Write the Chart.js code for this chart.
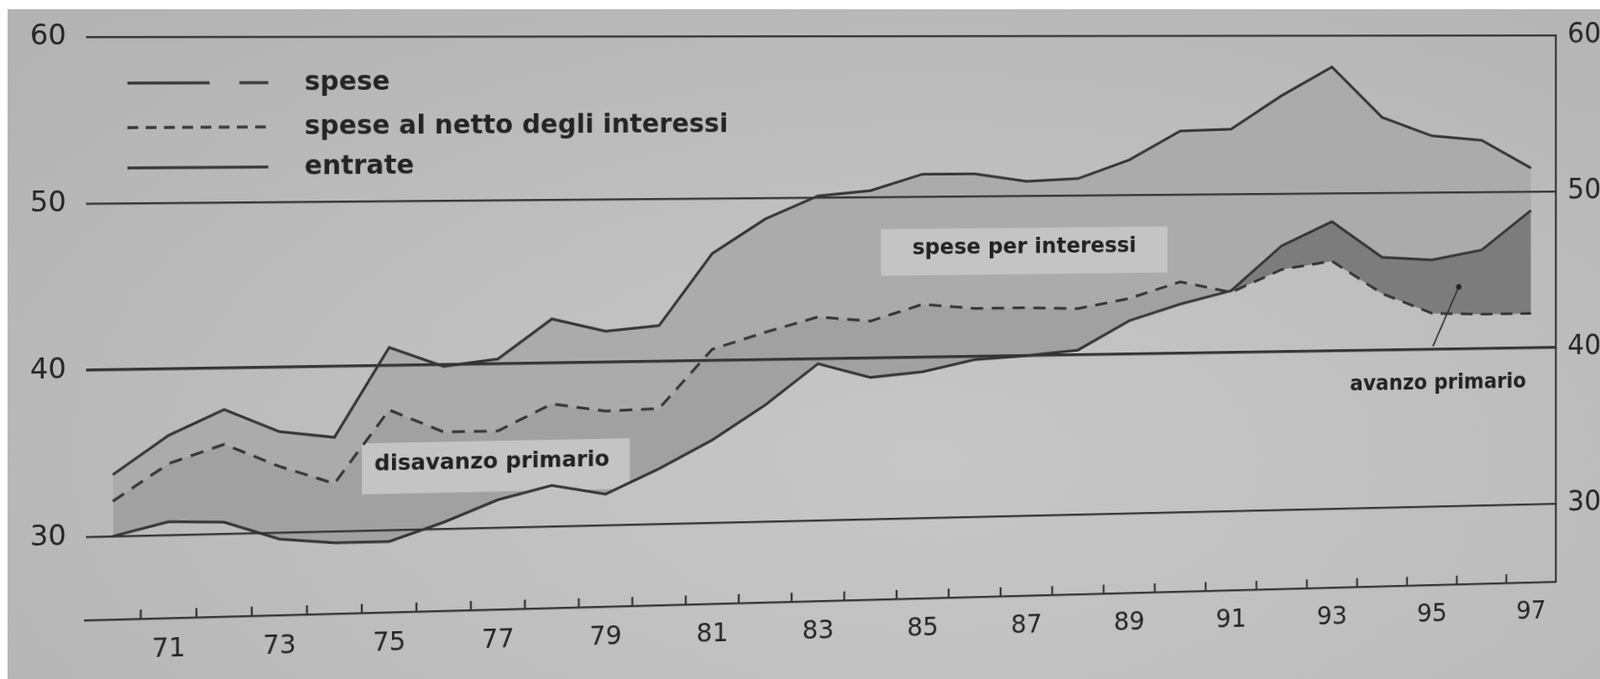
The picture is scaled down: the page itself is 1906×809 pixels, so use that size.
<!DOCTYPE html>
<html>
<head>
<meta charset="utf-8">
<script src="https://cdn.jsdelivr.net/npm/chart.js@4/dist/chart.umd.min.js"></script>
<style>
html,body{margin:0;padding:0;width:1906px;height:809px;overflow:hidden;background:#ffffff;}
#paper{position:absolute;left:0;top:0;width:1906px;height:809px;
  background:radial-gradient(ellipse 75% 90% at 58% 68%, #c7c7c7 0%, #bebebe 50%, #b3b3b3 100%);}
#c{position:absolute;left:0;top:0;transform-origin:0 0;}
.edge{position:absolute;background:#ffffff;z-index:5;}
</style>
</head>
<body>
<div id="paper"></div>
<canvas id="c" width="2037" height="809" style="width:2037px;height:809px"></canvas>
<div class="edge" style="left:0;top:0;width:1906px;height:11px"></div>
<div class="edge" style="left:0;top:0;width:9px;height:809px"></div>
<script>
// ---- data (percent of GDP) ----
const years = [1970,1971,1972,1973,1974,1975,1976,1977,1978,1979,1980,1981,1982,1983,
               1984,1985,1986,1987,1988,1989,1990,1991,1992,1993,1994,1995,1996,1997];
const spese = [33.7,36.0,37.5,36.1,35.7,41.1,39.9,40.3,42.7,41.9,42.2,46.6,48.7,50.1,
               50.4,51.4,51.4,50.9,51.05,52.2,54.0,54.1,56.2,58.0,54.8,53.6,53.3,51.5];
const speseNette = [32.1,34.3,35.4,34.0,32.9,37.3,35.9,35.9,37.5,37.0,37.1,40.7,41.7,42.6,
               42.3,43.3,43.0,43.0,42.9,43.5,44.5,43.8,45.2,45.7,43.6,42.3,42.2,42.2];
const entrate = [30.0,30.8,30.7,29.6,29.3,29.3,30.4,31.7,32.5,31.9,33.4,35.1,37.2,39.7,
               38.8,39.1,39.8,40.0,40.3,42.1,43.1,43.9,46.7,48.2,45.9,45.7,46.3,48.8];
const xTickYears = [1971,1973,1975,1977,1979,1981,1983,1985,1987,1989,1991,1993,1995,1997];
const xTickLabels = ['71','73','75','77','79','81','83','85','87','89','91','93','95','97'];
const yTicks = [30,40,50,60];
const legendLabels = ['spese','spese al netto degli interessi','entrate'];
const areaLabels = ['spese per interessi','disavanzo primario','avanzo primario'];

const INK = '#353535';
const C_INTEREST = '#ababab';
const C_DISAV = '#a1a1a1';
const C_AVANZO = '#7c7c7c';
const C_BOX = '#c4c4c4';

const pts = arr => years.map((y,i)=>({x:y, y:arr[i]}));

const decor = {
  id:'decor',
  beforeDatasetsDraw(chart){
    const {ctx, scales:{x,y}} = chart;
    ctx.save();
    ctx.fillStyle = C_BOX;
    const box = (x0,x1,y0,y1)=>{
      const px0=x.getPixelForValue(x0), px1=x.getPixelForValue(x1);
      const py0=y.getPixelForValue(y0), py1=y.getPixelForValue(y1);
      ctx.fillRect(px0,py0,px1-px0,py1-py0);
    };
    box(1984.2,1989.75,48.0,45.1);
    box(1974.5,1979.45,35.3,32.2);
    ctx.restore();
  },
  afterDatasetsDraw(chart){
    const {ctx, scales:{x,y}, chartArea:a} = chart;
    ctx.save();
    // year tick marks on the bottom axis, pointing up
    ctx.strokeStyle = INK; ctx.lineWidth = 2.5;
    for (let k=0;k<years.length-1;k++){
      const px = x.getPixelForValue((years[k]+years[k+1])/2);
      ctx.beginPath(); ctx.moveTo(px,a.bottom); ctx.lineTo(px,a.bottom-11); ctx.stroke();
    }
    // area labels
    ctx.fillStyle = '#222222';
    ctx.textAlign = 'center'; ctx.textBaseline = 'middle';
    ctx.font = 'bold 27px "DejaVu Sans"';
    ctx.fillText(areaLabels[0], x.getPixelForValue(1986.97), y.getPixelForValue(46.75));
    ctx.fillText(areaLabels[1], x.getPixelForValue(1976.9), y.getPixelForValue(34.0));
    ctx.font = 'bold 26px "DejaVu Sans"';
    ctx.fillText(areaLabels[2], x.getPixelForValue(1995.13), y.getPixelForValue(37.8));
    // arrow to avanzo area
    const ax0=x.getPixelForValue(1995.02), ay0=y.getPixelForValue(40.2);
    const ax1=x.getPixelForValue(1995.54), ay1=y.getPixelForValue(43.97);
    ctx.lineWidth = 2; ctx.beginPath(); ctx.moveTo(ax0,ay0); ctx.lineTo(ax1,ay1); ctx.stroke();
    ctx.beginPath(); ctx.arc(ax1,ay1,3.5,0,Math.PI*2); ctx.fillStyle='#202020'; ctx.fill();
    // legend
    const lx0 = a.left+51, lx1 = a.left+221, tx = a.left+265;
    const rows = [a.top+55, a.top+108, a.top+156];
    ctx.lineWidth = 3.5; ctx.strokeStyle = '#383838';
    ctx.beginPath(); ctx.moveTo(lx0,rows[0]); ctx.lineTo(lx0+99,rows[0]);
    ctx.moveTo(lx0+135,rows[0]); ctx.lineTo(lx1,rows[0]); ctx.stroke();
    ctx.setLineDash([13,9]);
    ctx.beginPath(); ctx.moveTo(lx0,rows[1]); ctx.lineTo(lx1,rows[1]); ctx.stroke();
    ctx.setLineDash([]);
    ctx.beginPath(); ctx.moveTo(lx0,rows[2]); ctx.lineTo(lx1,rows[2]); ctx.stroke();
    ctx.fillStyle = '#242424';
    ctx.font = 'bold 32px "DejaVu Sans"';
    ctx.textAlign = 'left';
    legendLabels.forEach((t,i)=>ctx.fillText(t, tx, rows[i]+1));
    ctx.restore();
  }
};

Chart.defaults.font.family = '"DejaVu Sans", sans-serif';
const chart = new Chart(document.getElementById('c'), {
  type:'line',
  data:{datasets:[
    {label:legendLabels[1], data:pts(speseNette), borderColor:INK, borderWidth:3.3, borderDash:[16,11],
     pointRadius:0, tension:0, fill:{target:1, above:C_DISAV, below:C_AVANZO}},
    {label:legendLabels[2], data:pts(entrate), borderColor:INK, borderWidth:3.3,
     pointRadius:0, tension:0, fill:false},
    {label:legendLabels[0], data:pts(spese), borderColor:INK, borderWidth:3.3,
     pointRadius:0, tension:0, fill:{target:0, above:C_INTEREST, below:C_INTEREST}}
  ]},
  options:{
    responsive:false, animation:false, devicePixelRatio:1,
    layout:{padding:{top:43,left:0,right:0,bottom:0}},
    plugins:{legend:{display:false}, tooltip:{enabled:false}, filler:{drawTime:'beforeDatasetsDraw'}},
    scales:{
      x:{type:'linear', min:1969.5, max:1997.5,
         afterBuildTicks(s){ s.ticks = xTickYears.map(v=>({value:v})); },
         afterFit(s){ s.height = 73; },
         grid:{display:false, drawTicks:false},
         border:{display:true, color:INK, width:2.5},
         ticks:{autoSkip:false, maxRotation:0, padding:18, color:'#262626', font:{size:32},
                callback:(v)=>xTickLabels[xTickYears.indexOf(v)]}},
      y:{type:'linear', position:'left', min:25, max:60,
         afterBuildTicks(s){ s.ticks = yTicks.map(v=>({value:v})); },
         afterFit(s){ s.width = 101; },
         grid:{z:1, color:INK, drawTicks:false, lineWidth:(c)=> c.tick && c.tick.value===40 ? 3.5 : 2.5},
         border:{display:true, color:INK, width:2.5},
         ticks:{padding:22, color:'#262626', font:{size:34}}},
      y2:{type:'linear', position:'right', min:25, max:60,
         afterBuildTicks(s){ s.ticks = yTicks.map(v=>({value:v})); },
         afterFit(s){ s.width = 60; },
         grid:{display:false, drawTicks:false},
         border:{display:true, color:INK, width:2.5},
         ticks:{padding:16, color:'#262626', font:{size:36}}}
    }
  },
  plugins:[decor]
});

// photographic perspective of the printed page: map the plot frame onto the photographed quadrilateral
function homography(src,dst){
  const A=[],b=[];
  for(let i=0;i<4;i++){
    const [x,y]=src[i],[X,Y]=dst[i];
    A.push([x,y,1,0,0,0,-x*X,-y*X]); b.push(X);
    A.push([0,0,0,x,y,1,-x*Y,-y*Y]); b.push(Y);
  }
  const n=8;
  for(let c=0;c<n;c++){
    let p=c; for(let r=c+1;r<n;r++) if(Math.abs(A[r][c])>Math.abs(A[p][c])) p=r;
    [A[c],A[p]]=[A[p],A[c]]; [b[c],b[p]]=[b[p],b[c]];
    for(let r=0;r<n;r++){ if(r===c) continue; const f=A[r][c]/A[c][c];
      for(let k=c;k<n;k++) A[r][k]-=f*A[c][k]; b[r]-=f*b[c]; }
  }
  return b.map((v,i)=>v/A[i][i]);
}
const ca = chart.chartArea;
const H = homography(
  [[ca.left,ca.top],[ca.right,ca.top],[ca.left,ca.bottom],[ca.right,ca.bottom]],
  [[101,44],[1853,42],[101,739],[1853,693]]);
document.getElementById('c').style.transform =
  `matrix3d(${H[0]},${H[3]},0,${H[6]},${H[1]},${H[4]},0,${H[7]},0,0,1,0,${H[2]},${H[5]},0,1)`;
</script>
</body>
</html>
